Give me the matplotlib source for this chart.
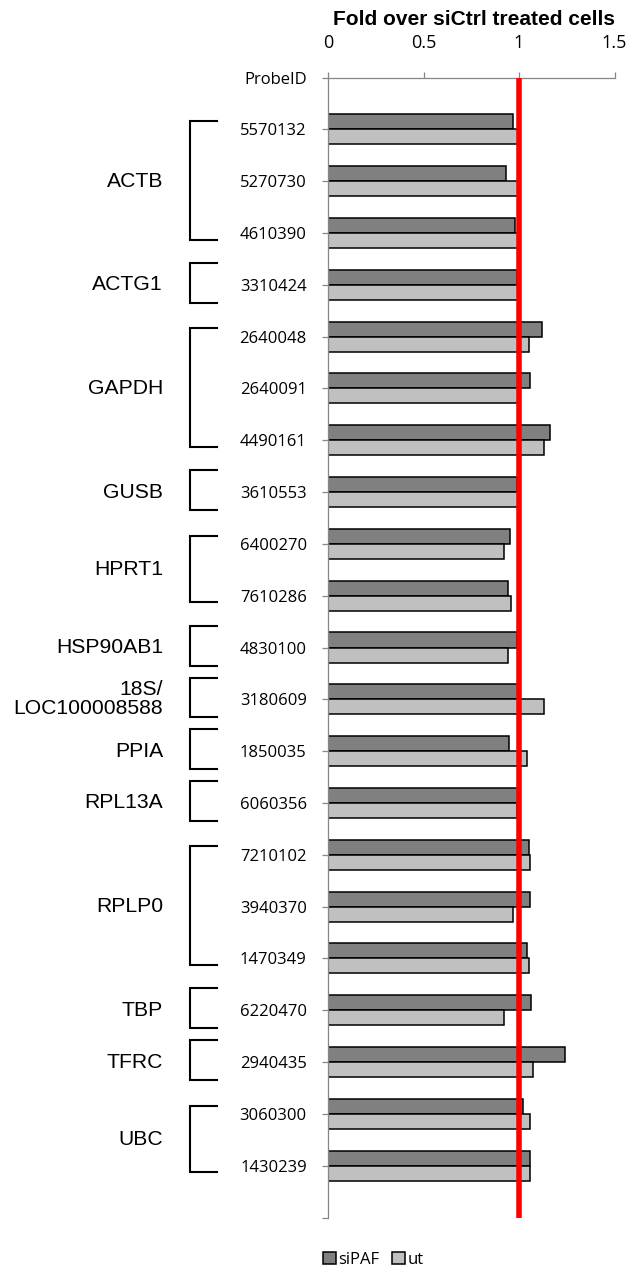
import numpy as np
import matplotlib
matplotlib.use('Agg')
import matplotlib.pyplot as plt
from matplotlib.patches import Patch
from matplotlib.transforms import blended_transform_factory

plt.rcParams['font.family'] = ['Open Sans', 'DejaVu Sans']

# Probe IDs in plotting order (top to bottom)
probe_ids = ['5570132', '5270730', '4610390', '3310424', '2640048', '2640091',
             '4490161', '3610553', '6400270', '7610286', '4830100', '3180609',
             '1850035', '6060356', '7210102', '3940370', '1470349', '6220470',
             '2940435', '3060300', '1430239']

# Fold change over siCtrl treated cells
sipaf = [0.97, 0.93, 0.98, 0.99, 1.12, 1.06, 1.16, 0.99, 0.955, 0.94, 0.99,
         1.00, 0.95, 1.00, 1.05, 1.06, 1.04, 1.065, 1.24, 1.02, 1.055]
ut = [1.00, 1.00, 1.00, 1.00, 1.05, 1.00, 1.13, 1.00, 0.92, 0.96, 0.94,
      1.13, 1.04, 0.99, 1.06, 0.97, 1.05, 0.92, 1.075, 1.055, 1.055]

# Genes and how many probes each one has
genes = ['ACTB', 'ACTG1', 'GAPDH', 'GUSB', 'HPRT1', 'HSP90AB1',
         '18S/\nLOC100008588', 'PPIA', 'RPL13A', 'RPLP0', 'TBP', 'TFRC', 'UBC']
gene_counts = [3, 1, 3, 1, 2, 1, 1, 1, 1, 3, 1, 1, 2]

x_ticks = [0, 0.5, 1, 1.5]
x_ticklabels = ['0', '0.5', '1', '1.5']

W, H = 630, 1268
fig = plt.figure(figsize=(W / 100, H / 100), dpi=100)
ax = fig.add_axes([328 / W, 1 - 1217.5 / H, 286.5 / W, 1140 / H])

rows = np.arange(1, len(probe_ids) + 1)
h = 0.29
ax.barh(rows - h / 2, sipaf, height=h, color='#808080', edgecolor='black',
        linewidth=1.1, zorder=2)
ax.barh(rows + h / 2, ut, height=h, color='#c0c0c0', edgecolor='black',
        linewidth=1.1, zorder=2)
ax.axvline(1, color='#ff0000', lw=4, zorder=5)

# gene brackets on the left
trans = blended_transform_factory(fig.transFigure, ax.transData)
x_arm, x_bar, x_lab = 217 / W, 190 / W, 163 / W
start = 1
for name, n in zip(genes, gene_counts):
    first, last = start, start + n - 1
    if n == 1:
        top, bot = first - 0.42, last + 0.35
    else:
        top, bot = first - 0.16, last + 0.13
    ax.plot([x_arm, x_bar, x_bar, x_arm], [top, top, bot, bot],
            transform=trans, clip_on=False, color='black', lw=1.5,
            solid_joinstyle='miter')
    ax.text(x_lab, (first + last) / 2, name, transform=trans, ha='right',
            va='center', fontsize=15.2, family='Liberation Sans',
            linespacing=1.0, multialignment='right')
    start += n

ax.set_xlim(0, 1.5)
ax.set_ylim(len(probe_ids) + 1, 0)
ax.xaxis.tick_top()
ax.set_xticks(x_ticks)
ax.set_xticklabels(x_ticklabels)
ax.set_yticks(range(len(probe_ids) + 2))
ax.set_yticklabels(['ProbeID'] + probe_ids + [''])

for s in ['right', 'bottom']:
    ax.spines[s].set_visible(False)
for s in ['top', 'left']:
    ax.spines[s].set_color('#868686')
    ax.spines[s].set_linewidth(0.9)
ax.tick_params(axis='x', length=4, width=0.9, color='#868686', pad=14,
               labelsize=13)
ax.tick_params(axis='y', length=4.3, width=0.9, color='#868686', pad=11,
               labelsize=12)

fig.text(474 / W, 1 - 25 / H, 'Fold over siCtrl treated cells', ha='center',
         va='baseline', fontsize=15, fontweight='bold', family='Liberation Sans')

handles = [Patch(facecolor='#808080', edgecolor='black', linewidth=1.1),
           Patch(facecolor='#c0c0c0', edgecolor='black', linewidth=1.1)]
fig.legend(handles, ['siPAF', 'ut'], loc='center left',
           bbox_to_anchor=(323 / W, 1 - 1260 / H), ncol=2, frameon=False,
           handlelength=0.75, handleheight=0.75, handletextpad=0.15,
           columnspacing=0.8, borderpad=0, borderaxespad=0, fontsize=12)

fig.savefig('out.png', dpi=100)
